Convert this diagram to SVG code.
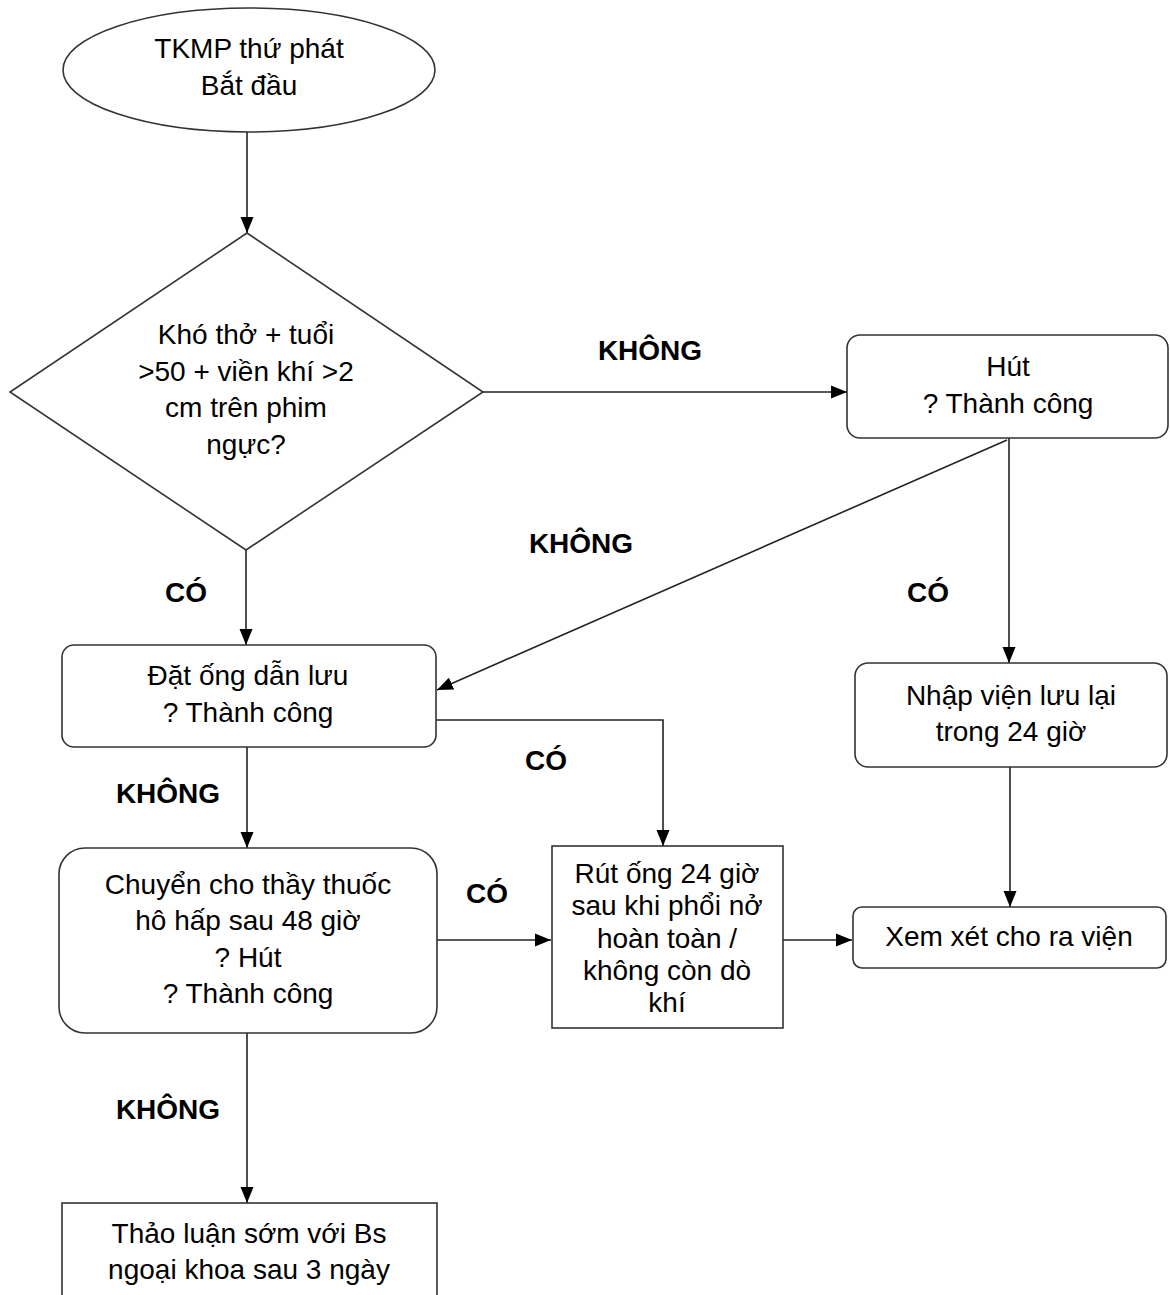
<svg xmlns="http://www.w3.org/2000/svg" width="1170" height="1295" viewBox="0 0 1170 1295">
<defs>
<style>
.n{fill:#fff;stroke:#333;stroke-width:1.6}
.t{font-family:"Liberation Sans",Arial,sans-serif;font-size:28px;fill:#000;text-anchor:middle}
.l{font-family:"Liberation Sans",Arial,sans-serif;font-size:28px;font-weight:bold;fill:#000;text-anchor:middle}
.c{fill:none;stroke:#222;stroke-width:1.6}
</style>
<marker id="ah" markerUnits="userSpaceOnUse" markerWidth="16" markerHeight="14" refX="16" refY="7" orient="auto">
<path d="M0,0.5 L16,7 L0,13.5 Z" fill="#000"/>
</marker>
</defs>
<rect width="1170" height="1295" fill="#fff"/>
<g id="connectors">
<path class="c" d="M247,132 L247,233" marker-end="url(#ah)"/>
<path class="c" d="M483,392 L847,392" marker-end="url(#ah)"/>
<path class="c" d="M1009,438 L1009,663" marker-end="url(#ah)"/>
<path class="c" d="M1007,440 L437,690" marker-end="url(#ah)"/>
<path class="c" d="M246,550 L246,645" marker-end="url(#ah)"/>
<path class="c" d="M436,720 L663,720 L663,846" marker-end="url(#ah)"/>
<path class="c" d="M247,747 L247,848" marker-end="url(#ah)"/>
<path class="c" d="M437,940 L551,940" marker-end="url(#ah)"/>
<path class="c" d="M783,940 L852,940" marker-end="url(#ah)"/>
<path class="c" d="M1010,767 L1010,907" marker-end="url(#ah)"/>
<path class="c" d="M247,1033 L247,1203" marker-end="url(#ah)"/>
<text class="l" x="650" y="360">KHÔNG</text>
<text class="l" x="581" y="553">KHÔNG</text>
<text class="l" x="186" y="602">CÓ</text>
<text class="l" x="928" y="602">CÓ</text>
<text class="l" x="546" y="770">CÓ</text>
<text class="l" x="168" y="803">KHÔNG</text>
<text class="l" x="487" y="903">CÓ</text>
<text class="l" x="168" y="1119">KHÔNG</text>
</g>
<g id="start">
<ellipse class="n" cx="249" cy="70" rx="186" ry="62"/>
<text class="t" x="249" y="58">TKMP thứ phát</text>
<text class="t" x="249" y="95">Bắt đầu</text>
</g>
<g id="decision">
<polygon class="n" points="247,233 483,392 246,550 10,392"/>
<text class="t" x="246" y="344">Khó thở + tuổi</text>
<text class="t" x="246" y="381">&gt;50 + viền khí &gt;2</text>
<text class="t" x="246" y="417">cm trên phim</text>
<text class="t" x="246" y="454">ngực?</text>
</g>
<g id="hut">
<rect class="n" x="847" y="335" width="321" height="103" rx="13"/>
<text class="t" x="1008" y="376">Hút</text>
<text class="t" x="1008" y="413">? Thành công</text>
</g>
<g id="datong">
<rect class="n" x="62" y="645" width="374" height="102" rx="12"/>
<text class="t" x="248" y="685">Đặt ống dẫn lưu</text>
<text class="t" x="248" y="722">? Thành công</text>
</g>
<g id="nhapvien">
<rect class="n" x="855" y="663" width="312" height="104" rx="13"/>
<text class="t" x="1011" y="705">Nhập viện lưu lại</text>
<text class="t" x="1011" y="741">trong 24 giờ</text>
</g>
<g id="chuyen">
<rect class="n" x="59" y="848" width="378" height="185" rx="26"/>
<text class="t" x="248" y="894">Chuyển cho thầy thuốc</text>
<text class="t" x="248" y="930">hô hấp sau 48 giờ</text>
<text class="t" x="248" y="967">? Hút</text>
<text class="t" x="248" y="1003">? Thành công</text>
</g>
<g id="rutong">
<rect class="n" x="552" y="846" width="231" height="182"/>
<text class="t" x="667" y="883">Rút ống 24 giờ</text>
<text class="t" x="667" y="915">sau khi phổi nở</text>
<text class="t" x="667" y="948">hoàn toàn /</text>
<text class="t" x="667" y="980">không còn dò</text>
<text class="t" x="667" y="1012">khí</text>
</g>
<g id="xemxet">
<rect class="n" x="853" y="907" width="313" height="61" rx="9"/>
<text class="t" x="1009" y="946">Xem xét cho ra viện</text>
</g>
<g id="thaoluan">
<rect class="n" x="62" y="1203" width="375" height="120"/>
<text class="t" x="249" y="1243">Thảo luận sớm với Bs</text>
<text class="t" x="249" y="1279">ngoại khoa sau 3 ngày</text>
</g>
</svg>
